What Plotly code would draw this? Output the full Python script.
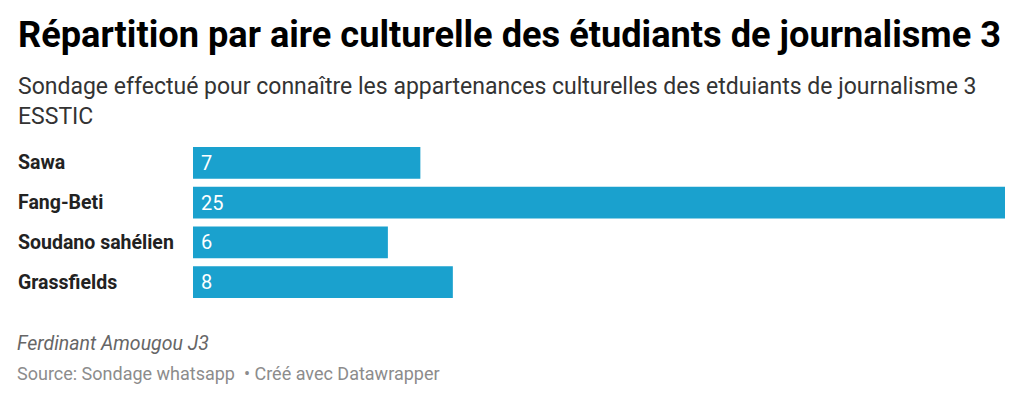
import plotly.graph_objects as go

categories = ["Sawa", "Fang-Beti", "Soudano sahélien", "Grassfields"]
values = [7, 25, 6, 8]

W, H = 1024, 401
bar_color = "#1aa1ce"

fig = go.Figure(go.Bar(
    y=categories, x=values, orientation="h",
    marker=dict(color=bar_color, line=dict(width=0)),
    width=0.8, hoverinfo="skip",
))

def px_x(p):
    return p / W

def px_y(p):
    return 1 - p / H

annotations = []
# category labels
for c in categories:
    annotations.append(dict(x=px_x(16), xref="paper", y=c, yref="y", text=f"<b>{c}</b>",
                            showarrow=False, xanchor="left", yanchor="middle",
                            font=dict(family="Roboto", size=19.5, color="#222222")))
# value labels inside bars
for c, v in zip(categories, values):
    annotations.append(dict(x=0, xref="x", y=c, yref="y", text=str(v), xshift=6,
                            showarrow=False, xanchor="left", yanchor="middle",
                            font=dict(family="Roboto", size=20, color="#ffffff")))
# title & subtitle
annotations.append(dict(x=px_x(16), xref="paper", y=px_y(11), yref="paper", xanchor="left", yanchor="top",
                        text="<b>Répartition par aire culturelle des étudiants de journalisme 3</b>",
                        showarrow=False, font=dict(family="Roboto", size=36.2, color="#000000")))
annotations.append(dict(x=px_x(16), xref="paper", y=px_y(71), yref="paper", xanchor="left", yanchor="top",
                        text="Sondage effectué pour connaître les appartenances culturelles des etduiants de journalisme 3<br>ESSTIC",
                        showarrow=False, align="left",
                        font=dict(family="Roboto", size=23, color="#333333")))
# footer
annotations.append(dict(x=px_x(15), xref="paper", y=px_y(343), yref="paper", xanchor="left", yanchor="middle",
                        text="<i>Ferdinant Amougou J3</i>", showarrow=False,
                        font=dict(family="Roboto", size=19.5, color="#666666")))
annotations.append(dict(x=px_x(15), xref="paper", y=px_y(373), yref="paper", xanchor="left", yanchor="middle",
                        text="Source: Sondage whatsapp  • Créé avec Datawrapper", showarrow=False,
                        font=dict(family="Roboto", size=18, color="#8c8c8c")))

fig.update_layout(
    width=W, height=H,
    margin=dict(l=0, r=0, t=0, b=0),
    paper_bgcolor="white", plot_bgcolor="white",
    showlegend=False,
    bargap=0.2,
    xaxis=dict(domain=[px_x(193), px_x(1005)], range=[0, 25], visible=False, fixedrange=True),
    yaxis=dict(domain=[px_y(302), px_y(143)], autorange="reversed", visible=False, fixedrange=True),
    annotations=annotations,
)

fig.write_html("out.html", config={"displayModeBar": False})
